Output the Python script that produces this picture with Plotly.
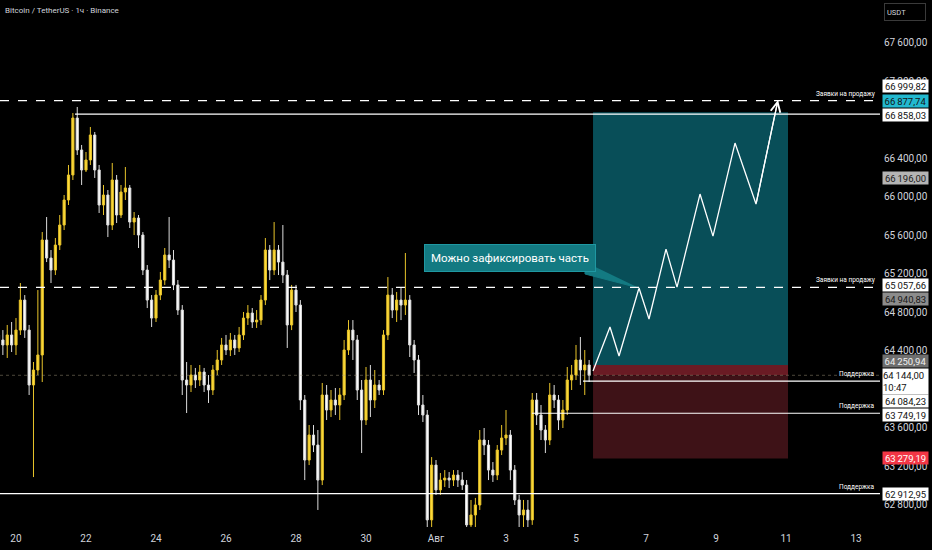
import plotly.graph_objects as go
import pandas as pd

# 3-hour candles, BTCUSDT, starting 19 Jul 12:00
start_time = "2024-07-19 12:00"
opens = [64563, 64511, 64459, 64563, 64459, 64614, 64926, 64614, 64043, 64199,
         64355, 65550, 65363, 65238, 65498, 65706, 65966, 66226, 66818, 66486,
         66278, 66382, 66642, 66278, 65914, 66018, 65706, 66174, 65810, 66049,
         66091, 65737, 65779, 65602, 65238, 64926, 64739, 64978, 65134, 65394,
         65342, 65083, 64822, 64095, 64043, 64147, 64095, 64178, 64043, 63991,
         64199, 64303, 64459, 64407, 64511, 64428, 64563, 64739, 64791, 64698,
         64718, 64926, 65446, 65238, 65446, 65321, 65186, 64667, 65030, 64874,
         63887, 63263, 63523, 63419, 63055, 63939, 63783, 63887, 63835, 63939,
         64407, 64614, 64511, 63991, 63679, 64095, 63887, 64043, 63991, 64563,
         64978, 64822, 64926, 64874, 64926, 64459, 64303, 63835, 63731, 62641,
         63211, 62952, 63055, 63076, 63055, 63107, 63055, 63003, 62589, 62692,
         62796, 63471, 63419, 63159, 63107, 63367, 63492, 63523, 63159, 62848,
         62692, 62744, 62641, 63887, 63731, 63575, 63471, 63939, 63887, 63679,
         63783, 64095, 64147, 64303, 64199, 64251]
highs = [64636, 64614, 64667, 64698, 64739, 65103, 64978, 64667, 64282, 65030,
         65633, 65789, 65446, 65571, 65810, 66018, 66330, 66870, 66933, 66538,
         66465, 66725, 66673, 66330, 66122, 66070, 66351, 66226, 66122, 66309,
         66122, 65841, 65810, 65633, 65290, 64978, 65030, 65218, 65467, 65789,
         65446, 65134, 64874, 64282, 64251, 64220, 64251, 64220, 64147, 64251,
         64407, 64532, 64563, 64584, 64563, 64646, 64802, 64874, 64843, 64822,
         64978, 65571, 65498, 65737, 65498, 65706, 65238, 65083, 65083, 64926,
         63939, 63627, 63627, 63575, 64064, 64043, 63991, 64012, 64012, 64511,
         64718, 64718, 64563, 64095, 64230, 64251, 64199, 64095, 64614, 65165,
         65051, 65010, 65051, 65415, 64978, 64511, 64355, 63939, 63783, 63294,
         63263, 63128, 63159, 63138, 63159, 63159, 63138, 63055, 62848, 62869,
         63575, 63596, 63471, 63242, 63419, 63627, 63783, 63575, 63211, 62900,
         62848, 62848, 63960, 63960, 63835, 63627, 64064, 64043, 63939, 63887,
         64230, 64251, 64459, 64542, 64407, 64303]
lows = [64459, 64355, 64324, 64386, 64355, 64563, 64532, 63939, 63086, 64147,
        64074, 65321, 65103, 65186, 65446, 65654, 65914, 66174, 66434, 66122,
        66257, 66330, 66195, 65831, 65810, 65581, 65654, 65727, 65779, 65966,
        65675, 65602, 65467, 65186, 64843, 64646, 64698, 64926, 65083, 65259,
        65030, 64771, 63939, 63752, 63970, 64012, 64033, 63970, 63856, 63939,
        64147, 64251, 64355, 64344, 64355, 64386, 64511, 64667, 64636, 64636,
        64667, 64874, 65134, 65186, 65186, 65103, 64428, 64614, 64802, 63783,
        63055, 63211, 63346, 62744, 63003, 63679, 63710, 63731, 63679, 63887,
        64355, 64303, 63887, 63336, 63627, 63710, 63804, 63939, 63939, 64511,
        64739, 64698, 64718, 64771, 64334, 64168, 63731, 63658, 62432, 62432,
        62900, 62900, 62983, 62972, 62993, 62983, 62952, 62380, 62380, 62536,
        62744, 63315, 63055, 63035, 63055, 63315, 63419, 63055, 62796, 62432,
        62432, 62380, 62589, 63627, 63471, 63336, 63419, 63804, 63575, 63596,
        63731, 63991, 64095, 64043, 63939, 64074]
closes = [64511, 64459, 64563, 64459, 64614, 64926, 64614, 64043, 64199, 64355,
          65550, 65363, 65238, 65498, 65706, 65966, 66226, 66818, 66486, 66278,
          66382, 66642, 66278, 65914, 66018, 65706, 66174, 65810, 66049, 66091,
          65737, 65779, 65602, 65238, 64926, 64739, 64978, 65134, 65394, 65342,
          65083, 64822, 64095, 64043, 64147, 64095, 64178, 64043, 63991, 64199,
          64303, 64459, 64407, 64511, 64428, 64563, 64739, 64791, 64698, 64718,
          64926, 65446, 65238, 65446, 65321, 65186, 64667, 65030, 64874, 63887,
          63263, 63523, 63419, 63055, 63939, 63783, 63887, 63835, 63939, 64407,
          64614, 64511, 63991, 63679, 64095, 63887, 64043, 63991, 64563, 64978,
          64822, 64926, 64874, 64926, 64459, 64303, 63835, 63731, 62641, 63211,
          62952, 63055, 63076, 63055, 63107, 63055, 63003, 62589, 62692, 62796,
          63471, 63419, 63159, 63107, 63367, 63492, 63523, 63159, 62848, 62692,
          62744, 62641, 63887, 63731, 63575, 63471, 63939, 63887, 63679, 63783,
          64095, 64147, 64303, 64199, 64251, 64144]

candle_times = pd.date_range(start_time, periods=len(closes), freq="3h")

# levels drawn on the chart
sell_levels = [66999.82, 65057.66]
support_levels = [64084.23, 63749.19, 62912.95]
support_starts = ["2024-08-05 04:48", "2024-08-03 17:50", None]
high_line = 66858.03
high_line_start = "2024-07-21 16:27"
last_price = 64144.00
countdown = "10:47"

# long position tool
pos_start = "2024-08-05 11:40"
pos_end = "2024-08-11 01:22"
take_profit = 66877.74
entry = 64250.94
stop_loss = 63279.19

# projected path
zz_time = ["2024-08-05 11:40", "2024-08-05 23:18", "2024-08-06 05:30", "2024-08-06 19:12",
           "2024-08-07 02:03", "2024-08-07 13:43", "2024-08-07 21:15", "2024-08-08 13:02",
           "2024-08-08 21:56", "2024-08-09 13:02", "2024-08-10 03:26", "2024-08-10 18:30"]
zz_price = [64188, 64646, 64344, 65051, 64729, 65456, 65061, 66028, 65591, 66558, 65924, 67005]

# callout
note_text = "Можно зафиксировать часть"
note_time = "2024-08-03 02:44"
note_price = 65363
tail_time = ["2024-08-05 06:10", "2024-08-05 06:10", "2024-08-06 19:12"]
tail_price = [65321, 65197, 65051]

# other price-scale markers
marker_66196 = 66196.00
marker_64940 = 64940.83

x_ticks = ["2024-07-20", "2024-07-22", "2024-07-24", "2024-07-26", "2024-07-28", "2024-07-30",
           "2024-08-01", "2024-08-03", "2024-08-05", "2024-08-07", "2024-08-09", "2024-08-11",
           "2024-08-13"]
x_labels = ["20", "22", "24", "26", "28", "30", "Авг", "3", "5", "7", "9", "11", "13"]
y_ticks = [62800, 63200, 63600, 64400, 64800, 65200, 65600, 66000, 66400, 67200, 67600]


def fmt(v):
    s = f"{v:,.2f}"
    return s.replace(",", "\u2009").replace(".", ",")


FONT = "Roboto, sans-serif"

fig = go.Figure()

# position boxes
fig.add_shape(type="rect", x0=pos_start, x1=pos_end, y0=entry, y1=take_profit,
              fillcolor="#084e58", line_width=0, layer="below")
fig.add_shape(type="rect", x0=pos_start, x1=pos_end, y0=last_price, y1=entry,
              fillcolor="#6a1b24", line_width=0, layer="below")
fig.add_shape(type="rect", x0=pos_start, x1=pos_end, y0=stop_loss, y1=last_price,
              fillcolor="#3e1217", line_width=0, layer="below")

fig.add_trace(go.Candlestick(
    x=candle_times, open=opens, high=highs, low=lows, close=closes,
    increasing=dict(line=dict(color="#e8c42a", width=1), fillcolor="#ffdc3c"),
    decreasing=dict(line=dict(color="#dcdcdc", width=1), fillcolor="#ffffff"),
    whiskerwidth=0, hoverinfo="skip", showlegend=False))

# current price dotted line
fig.add_shape(type="line", xref="paper", x0=0, x1=1, y0=last_price, y1=last_price,
              line=dict(color="rgba(170,160,130,0.45)", width=1, dash="dot"))

for lv in sell_levels:
    fig.add_shape(type="line", xref="paper", x0=0, x1=1, y0=lv, y1=lv,
                  line=dict(color="#ffffff", width=1.2, dash="dash"))
    fig.add_annotation(xref="paper", x=0.997, y=lv, xanchor="right", yanchor="bottom",
                       text="Заявки на продажу", showarrow=False, yshift=1,
                       font=dict(size=6.5, color="#ffffff", family=FONT))

x_end = "2024-08-13 16:27"
fig.add_shape(type="line", x0=high_line_start, x1=x_end, y0=high_line, y1=high_line,
              line=dict(color="#ffffff", width=1.2))

for lv, st in zip(support_levels, support_starts):
    if st is None:
        fig.add_shape(type="line", xref="paper", x0=0, x1=1, y0=lv, y1=lv,
                      line=dict(color="#ffffff", width=1.2))
    else:
        fig.add_shape(type="line", x0=st, x1=x_end, y0=lv, y1=lv,
                      line=dict(color="#ffffff", width=1.2))
    fig.add_annotation(xref="paper", x=0.997, y=lv, xanchor="right", yanchor="bottom",
                       text="Поддержка", showarrow=False, yshift=1,
                       font=dict(size=6.5, color="#ffffff", family=FONT))

# projected zigzag
fig.add_trace(go.Scatter(x=zz_time, y=zz_price, mode="lines",
                         line=dict(color="#ffffff", width=1.3),
                         hoverinfo="skip", showlegend=False))
fig.add_annotation(x=zz_time[-1], y=zz_price[-1], ax=zz_time[-2], ay=zz_price[-2],
                   axref="x", ayref="y", text="", showarrow=True,
                   arrowhead=5, arrowsize=1.6, arrowwidth=1.2, arrowcolor="#ffffff")

# callout with tail
fig.add_trace(go.Scatter(x=tail_time, y=tail_price, mode="lines", fill="toself",
                         fillcolor="#137a82", line=dict(color="#137a82", width=1),
                         hoverinfo="skip", showlegend=False))
fig.add_annotation(x=note_time, y=note_price, text=note_text, showarrow=False,
                   bgcolor="#137a82", bordercolor="#1f98a2", borderwidth=1, borderpad=6,
                   font=dict(size=11.5, color="#ffffff", family=FONT))

# price-scale labels
scale_labels = [
    (66999.82, fmt(66999.82), "#ffffff", "#131313", 15),
    (take_profit, fmt(take_profit), "#22b8cf", "#131313", 11),
    (high_line, fmt(high_line), "#ffffff", "#131313", -1),
    (marker_66196, fmt(marker_66196), "#b4b4b4", "#1a1a1a", 0),
    (65057.66, fmt(65057.66), "#ffffff", "#131313", 2),
    (marker_64940, fmt(marker_64940), "#8c8c8c", "#1a1a1a", 0),
    (entry, fmt(entry), "#6e6e6e", "#f0f0f0", 4),
    (64084.23, fmt(64084.23), "#ffffff", "#131313", -20),
    (63749.19, fmt(63749.19), "#ffffff", "#131313", -2),
    (stop_loss, fmt(stop_loss), "#f23645", "#ffffff", 0),
    (62912.95, fmt(62912.95), "#ffffff", "#131313", 0),
]
for price, txt, bg, fc, shift in scale_labels:
    fig.add_annotation(xref="paper", x=1, y=price, xanchor="left", yanchor="middle",
                       xshift=2, yshift=shift, text=txt, showarrow=False,
                       bgcolor=bg, width=45, height=12, borderpad=0,
                       font=dict(size=9.5, color=fc, family=FONT))
fig.add_annotation(xref="paper", x=1, y=last_price, xanchor="left", yanchor="top",
                   xshift=2, yshift=7, text=fmt(last_price) + "<br>" + countdown,
                   showarrow=False, bgcolor="#ffffff", width=45, height=25, borderpad=0,
                   align="left", font=dict(size=9.5, color="#131313", family=FONT))

# header texts
fig.add_annotation(xref="paper", yref="paper", x=0, y=1, xanchor="left", yanchor="top",
                   xshift=3, yshift=-4, text="Bitcoin / TetherUS · 1ч · Binance",
                   showarrow=False, font=dict(size=8, color="#d1d4dc", family=FONT))
fig.add_annotation(xref="paper", yref="paper", x=1, y=1, xanchor="left", yanchor="top",
                   xshift=4, yshift=-3, text="USDT", showarrow=False, width=36, height=12,
                   align="left", bgcolor="#000000", bordercolor="#3a3a3a", borderwidth=1,
                   borderpad=2, font=dict(size=7.5, color="#d1d4dc", family=FONT))

fig.update_layout(
    width=932, height=550,
    margin=dict(l=0, r=52, t=0, b=23, autoexpand=False),
    paper_bgcolor="#000000", plot_bgcolor="#000000",
    showlegend=False,
    xaxis=dict(range=["2024-07-19 13:02", x_end], rangeslider=dict(visible=False),
               showgrid=False, zeroline=False, showline=False,
               tickvals=x_ticks, ticktext=x_labels, ticks="", ticklabelstandoff=4,
               tickfont=dict(size=10, color="#d1d4dc", family=FONT)),
    yaxis=dict(range=[62567, 68045], side="right", showgrid=False, zeroline=False,
               showline=False, tickvals=y_ticks, ticktext=[fmt(v) for v in y_ticks],
               ticks="", ticklabelstandoff=3,
               tickfont=dict(size=10, color="#d1d4dc", family=FONT)),
)

fig.write_html("out.html", config={"displayModeBar": False},
               post_script="document.body.style.margin='0';")
